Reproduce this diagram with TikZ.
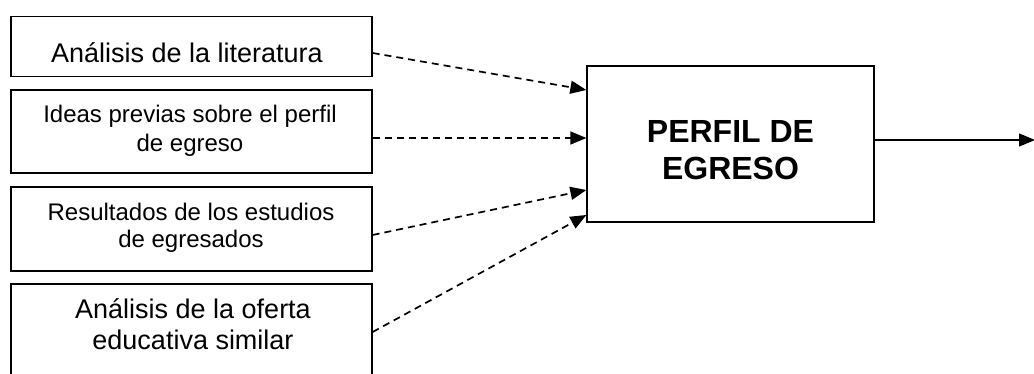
\documentclass[tikz,border=0pt]{standalone}
\usepackage{fontspec}
\setmainfont{Liberation Sans}
\usetikzlibrary{arrows.meta}
\begin{document}
\begin{tikzpicture}[x=1pt,y=-1pt,
  box/.style={draw=black,line width=1.3pt,inner sep=0pt,minimum width=361pt},
  txt/.style={inner sep=0pt,align=center,text=black},
  dasharrow/.style={line width=1.7pt,dash pattern=on 7pt off 5pt,-{Triangle[length=16pt,width=13pt]}},
  solidarrow/.style={line width=1.3pt,-{Triangle[length=16pt,width=13pt]}}]
\useasboundingbox (0,0) rectangle (1034,374);
\clip (0,0) rectangle (1034,374);
\fill[white] (0,0) rectangle (1034,374);
% source boxes
\node[box,minimum height=60pt] (b1) at (191.5,46.5) {};
\node[box,minimum height=83pt] (b2) at (191.5,131.5) {};
\node[box,minimum height=84pt] (b3) at (191.5,229) {};
\node[box,minimum height=106pt] (b4) at (191.5,337) {};
\node[txt,font=\fontsize{27}{31}\selectfont] (t1) at (187,53) {Análisis de la literatura};
\node[txt,font=\fontsize{24}{29}\selectfont] (t2) at (190,131) {Ideas previas sobre el perfil\\de egreso};
\node[txt,font=\fontsize{24}{27}\selectfont] (t3) at (191,228) {Resultados de los estudios\\de egresados};
\node[txt,font=\fontsize{27}{31}\selectfont] (t4) at (193,324.5) {Análisis de la oferta\\educativa similar};
% main box
\node[draw=black,line width=1.3pt,minimum width=287pt,minimum height=156pt,inner sep=0pt] (m) at (730.5,144) {};
\node[txt,font=\fontsize{32}{37}\selectfont\bfseries] (tm) at (730.5,150) {PERFIL DE\\EGRESO};
\coordinate (out) at (1035,140);
% connectors
\draw[dasharrow] ([yshift=-6.5pt]b1.east) -- ([yshift=54pt]m.west);
\draw[dasharrow] ([yshift=-6.5pt]b2.east) -- ([yshift=6pt]m.west);
\draw[dasharrow] ([yshift=-6pt]b3.east) -- ([yshift=-46pt]m.west);
\draw[dasharrow] ([yshift=5pt]b4.east) -- ([yshift=-71pt]m.west);
\draw[solidarrow] ([yshift=4pt]m.east) -- (out);
\end{tikzpicture}
\end{document}
